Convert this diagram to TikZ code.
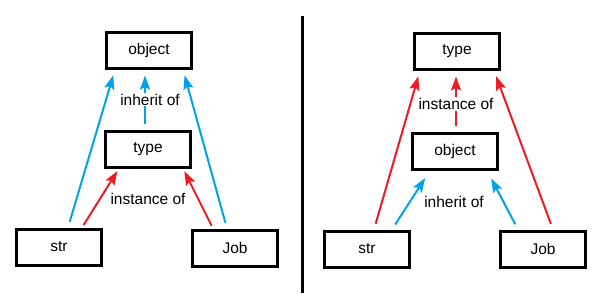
\documentclass[tikz,border=0pt]{standalone}
\usepackage{fontspec}
\setmainfont{Liberation Sans}
\usepackage{xcolor}
\usetikzlibrary{arrows.meta}

\definecolor{inhblue}{RGB}{0,162,232}
\definecolor{insred}{RGB}{237,28,36}

\begin{document}
\begin{tikzpicture}[x=1pt,y=-1pt,
    box/.style={draw=black, line width=3pt, minimum width=85pt, minimum height=36pt,
        font=\fontsize{15.5}{18}\selectfont},
    lbl/.style={text=black, font=\fontsize{15.5}{18}\selectfont, inner sep=1pt},
    inherit/.style={inhblue, line width=2pt, shorten <=6pt, shorten >=6pt,
        -{Stealth[length=14pt,width=10pt,inset=2.5pt]}},
    instance/.style={insred, line width=2pt, shorten <=3pt, shorten >=3pt,
        -{Stealth[length=14pt,width=10pt,inset=2.5pt]}}]

                \useasboundingbox (0,0) rectangle (603,293);

                %% left: object on top
                \node[box] (objL)  at (149,50)  {object};
                \node[box] (typeL) at (148,149) {type};
                \node[box] (strL)  at (59,247)  {str};
                \node[box] (jobL)  at (235,248) {Job};

                \draw[inherit] ([xshift=9pt]strL.north) -- ([xshift=-34pt]objL.south);
                \draw[inherit] ([xshift=-8pt]jobL.north) -- ([xshift=34pt]objL.south);
                \draw[inherit] ([xshift=-3pt]typeL.north) --
                    node[lbl, fill=white, xshift=5pt] (inhL) {inherit of}
                    ([xshift=-4pt]objL.south);

                \draw[instance] ([xshift=23pt]strL.north) -- ([xshift=-29pt]typeL.south);
                \draw[instance] ([xshift=-22pt]jobL.north) -- ([xshift=35pt]typeL.south);
                \node[lbl] (insL) at (148,199) {instance of};

                %% divider
                \draw[line width=3pt] (302,16) -- (302,293);

                %% right: type on top
                \node[box] (typeR) at (457,51)  {type};
                \node[box] (objR)  at (455,151) {object};
                \node[box] (strR)  at (367,249) {str};
                \node[box] (jobR)  at (543,249) {Job};

                \draw[instance, shorten <=6pt, shorten >=6pt] ([xshift=7pt]strR.north) -- ([xshift=-37pt]typeR.south);
                \draw[instance, shorten <=6pt, shorten >=6pt] ([xshift=10pt]jobR.north) -- ([xshift=37pt]typeR.south);
                \draw[instance, shorten <=6pt, shorten >=6pt] ([xshift=1pt]objR.north) --
                    node[lbl, fill=white, yshift=-3pt] (insR) {instance of}
                    ([xshift=-1pt]typeR.south);

                \draw[inherit, shorten <=6pt, shorten >=9pt] ([xshift=25pt]strR.north) -- ([xshift=-25pt]objR.south);
                \draw[inherit, shorten <=6pt, shorten >=9pt] ([xshift=-25pt]jobR.north) -- ([xshift=32pt]objR.south);
                \node[lbl] (inhR) at (454,202) {inherit of};

\end{tikzpicture}
\end{document}
